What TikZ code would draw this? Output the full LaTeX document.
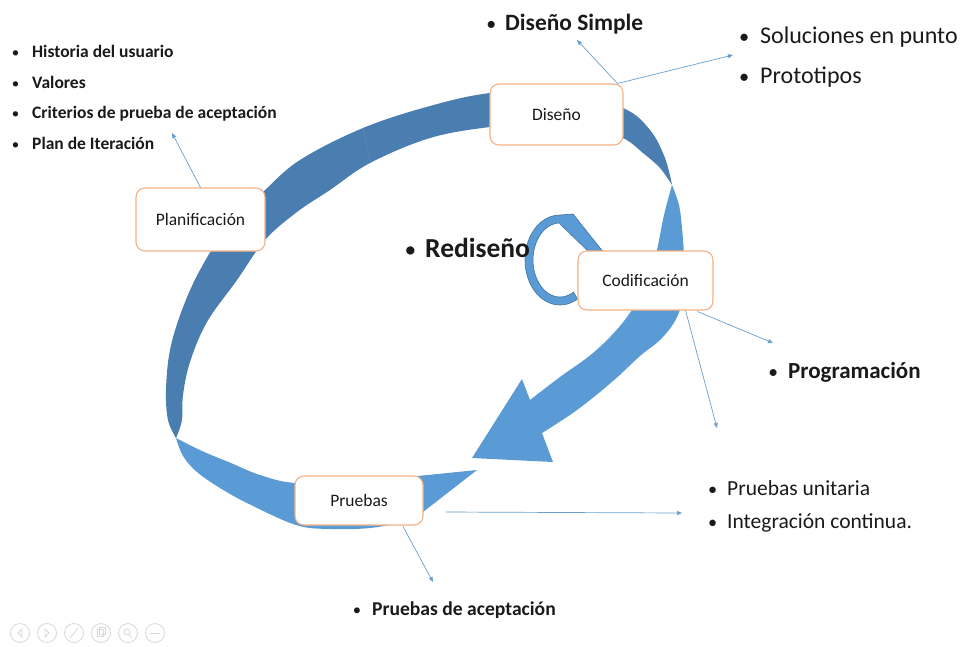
\documentclass[tikz,border=0pt]{standalone}
\usepackage{fontspec}
\setmainfont{Carlito}
\usetikzlibrary{arrows.meta,calc}
\definecolor{ribdark}{HTML}{4A7DB0}
\definecolor{riblight}{HTML}{5B9BD5}
\definecolor{ribedge}{HTML}{41719C}
\definecolor{boxline}{HTML}{F4B183}
\definecolor{conncol}{HTML}{6A9FD4}
\definecolor{ctrlgray}{HTML}{D8D8D8}
\definecolor{txt}{HTML}{1A1A1A}
\newcommand\bitem[2]{\llap{{\mdseries\scalebox{0.85}{•}}\hspace{#1}}#2}
\tikzset{
  stagebox/.style={draw=boxline, line width=1.1pt, fill=white, rounded corners=9pt,
    inner sep=0pt, text=txt, font=\fontsize{17.5}{20}\selectfont},
  conn/.style={draw=conncol, line width=0.7pt, -{Triangle[length=5pt,width=4pt]}},
  txtnode/.style={anchor=base west, inner sep=0pt, text=txt},
  ctrl/.style={draw=ctrlgray, line width=0.8pt},
}
\begin{document}
\begin{tikzpicture}[x=1pt,y=-1pt]
\useasboundingbox[fill=white] (0,0) rectangle (963,646);

% big ribbon: dark part
\fill[ribdark] plot[smooth, tension=0.6] coordinates {(176,438) (168,420) (166,390) (170,350) (182,310) (200,270) (228,226) (263,192) (300,160) (363,128) (430,106) (490,93) (560,90) (623,108) (650,130) (665,158) (672,185)}
  -- plot[smooth, tension=0.6] coordinates {(672,185) (660,168) (643,153) (623,138) (590,128) (540,124) (490,127) (430,138) (370,163) (330,190) (297,212) (265,240) (237,280) (207,322) (190,362) (183,395) (182,420) (176,438)} -- cycle;
\draw[ribedge!80, line width=0.4pt] (363,128) -- (371,163);

% right light part with arrow head
\fill[riblight] plot[smooth, tension=0.6] coordinates {(672,185) (679,205) (682,228) (684,255) (685,285) (678,315) (662,338) (640,356) (613,381) (577,410) (542,433)}
  -- (553,462) -- (472,458) -- (522,379) -- (530,400)
  -- plot[smooth, tension=0.6] coordinates {(530,400) (560,377) (593,353) (620,326) (638,300) (650,275) (657,250) (664,215) (672,185)} -- cycle;

% bottom light part with pointed tail
\fill[riblight] plot[smooth, tension=0.6] coordinates {(176,438) (183,456) (197,472) (220,488) (249,504) (296,525) (330,529) (370,528) (400,522) (423,512)}
  -- (477,470)
  -- plot[smooth, tension=0.6] coordinates {(477,470) (407,477) (360,481) (296,483) (260,475) (231,463) (202,451) (176,438)} -- cycle;

% small loop (Rediseño)
\filldraw[fill=riblight, draw=ribedge, line width=0.6pt]
  plot[domain=60:270, samples=50] ({560+35*cos(\x)},{260+45*sin(\x)})
  -- (573,214) -- (604,253) -- (590,253) -- (560,224)
  -- plot[domain=270:60, samples=50] ({560+27*cos(\x)},{260+37*sin(\x)}) -- cycle;

% stage boxes
\node[stagebox, minimum width=129pt, minimum height=63pt] (plan) at (200.5,219.5) {Planificación};
\node[stagebox, minimum width=133pt, minimum height=61pt] (dis) at (556.5,114.5) {Diseño};
\node[stagebox, minimum width=135pt, minimum height=59pt] (cod) at (645.5,280.5) {Codificación};
\node[stagebox, minimum width=128pt, minimum height=49pt] (pru) at (359,500.5) {Pruebas};

% connector end points
\coordinate (planend) at (172,133);
\coordinate (dsimple) at (577,40);
\coordinate (dsol) at (733,55);
\coordinate (cprog) at (773,343);
\coordinate (cunit) at (717,428);
\coordinate (pint) at (682,513);
\coordinate (pacep) at (433,582);

\draw[conn] (plan.north) -- (planend);
\draw[conn] ([xshift=-6pt]dis.north east) -- (dsimple);
\draw[conn] ([xshift=-6pt]dis.north east) -- (dsol);
\draw[conn] ([xshift=-16pt,yshift=-1pt]cod.south east) -- (cprog);
\draw[conn] ([xshift=-28pt]cod.south east) -- (cunit);
\coordinate (pstart) at ([xshift=22pt,yshift=-11.5pt]pru.east);
\draw[conn] (pstart) -- (pint);
\draw[conn] ([xshift=44pt,yshift=-1pt]pru.south) -- (pacep);

% texts
\begin{scope}[every node/.style={txtnode, font=\bfseries\fontsize{17.5}{20}\selectfont}]
\node (t1) at (32,57) {\bitem{13pt}{Historia del usuario}};
\node (t2) at (32,88) {\bitem{13pt}{Valores}};
\node (t3) at (32,118) {\bitem{13pt}{Criterios de prueba de aceptación}};
\node (t4) at (32,149) {\bitem{13pt}{Plan de Iteración}};
\end{scope}
\node[txtnode, font=\bfseries\fontsize{23.4}{26}\selectfont] (ds) at (505,30) {\bitem{9pt}{Diseño Simple}};
\node[txtnode, font=\fontsize{24}{28}\selectfont] (sol) at (760,43) {\bitem{11pt}{Soluciones en punto}};
\node[txtnode, font=\fontsize{24}{28}\selectfont] (proto) at (760,83) {\bitem{11pt}{Prototipos}};
\node[txtnode, font=\bfseries\fontsize{27.5}{30}\selectfont] (redis) at (425,257) {\bitem{9pt}{Rediseño}};
\node[txtnode, font=\bfseries\fontsize{23}{26}\selectfont] (prog) at (788,378) {\bitem{10pt}{Programación}};
\node[txtnode, font=\fontsize{21.5}{24}\selectfont] (punit) at (727,495) {\bitem{10pt}{Pruebas unitaria}};
\node[txtnode, font=\fontsize{21.5}{24}\selectfont] (pcont) at (727,528) {\bitem{10pt}{Integración continua.}};
\node[txtnode, font=\bfseries\fontsize{19.6}{22}\selectfont] (pacept) at (372,615) {\bitem{11pt}{Pruebas de aceptación}};

% slide show controls (faint)
\foreach \cx in {20,47,74,101,128,155} { \draw[ctrl] (\cx,633) circle (9.5); }
\draw[ctrl] (22,629) -- (18,633) -- (22,637) -- cycle;
\draw[ctrl] (45,629) -- (49,633) -- (45,637) -- cycle;
\draw[ctrl] (70,638) -- (78,628);
\draw[ctrl] (97,629) rectangle (103,636); \draw[ctrl] (99,627) rectangle (105,634);
\draw[ctrl] (127,632) circle (3); \draw[ctrl] (129,634) -- (132,638);
\draw[ctrl] (150,633) -- (160,633);
\end{tikzpicture}
\end{document}
